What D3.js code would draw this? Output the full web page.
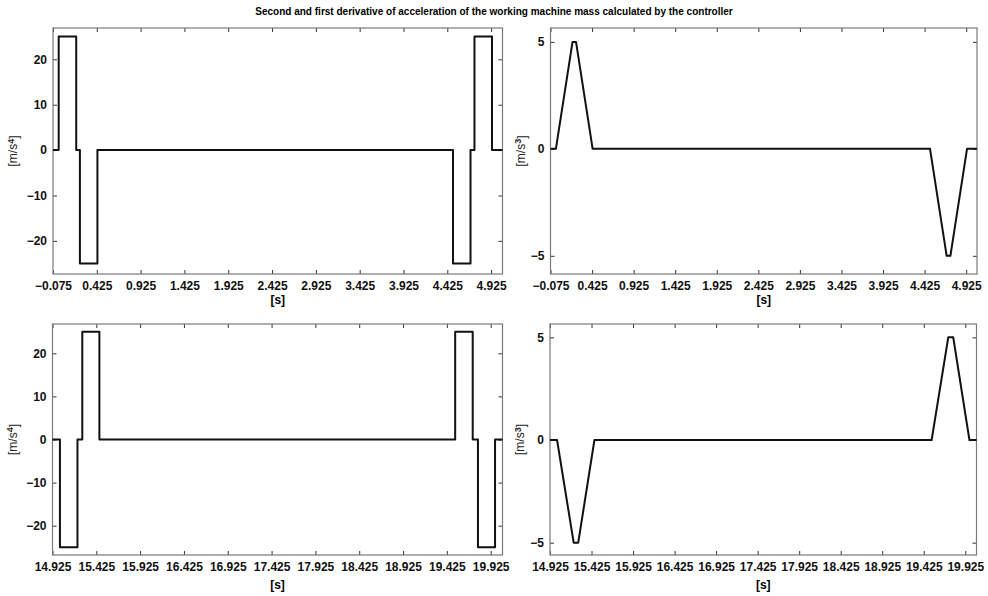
<!DOCTYPE html>
<html>
<head>
<meta charset="utf-8">
<script src="https://cdn.jsdelivr.net/npm/d3@7"></script>
<style>
  body { margin: 0; background: #fff; }
  svg { display: block; }
  .tick text { font-family: "Liberation Sans", Arial, sans-serif; font-weight: bold; font-size: 12px; fill: #111; }
  .tick line { stroke: #333; }
</style>
</head>
<body>
<div id="chart"></div>
<script>
// time breakpoints and values (step / piecewise-linear)
const timesStart = [-0.075, -0.01, 0.19, 0.232, 0.432, 4.49, 4.69, 4.735, 4.935, 5.055];
const snapStart  = [0, 25, 0, -25, 0, -25, 0, 25, 0, 0];
const jerkStart  = [0, 0, 5, 5, 0, 0, -5, -5, 0, 0];

const timesEnd = [14.925, 15.01, 15.21, 15.265, 15.46, 19.52, 19.72, 19.78, 19.975, 20.06];
const snapEnd  = [0, -25, 0, 25, 0, 25, 0, -25, 0, 0];
const jerkEnd  = [0, 0, -5, -5, 0, 0, 5, 5, 0, 0];

const ticksStart = [-0.075, 0.425, 0.925, 1.425, 1.925, 2.425, 2.925, 3.425, 3.925, 4.425, 4.925];
const ticksEnd   = [14.925, 15.425, 15.925, 16.425, 16.925, 17.425, 17.925, 18.425, 18.925, 19.425, 19.925];
const snapTicks = [-20, -10, 0, 10, 20];
const jerkTicks = [-5, 0, 5];

const titleText = "Second and first derivative of acceleration of the working machine mass calculated by the controller";

const svg = d3.select("#chart").append("svg")
  .attr("width", 988)
  .attr("height", 596);

class DerivPlot {
  constructor(_cfg, _times, _values) {
    this.cfg = _cfg;
    this.data = _times.map((t, i) => ({t: t, v: _values[i]}));
    this.initVis();
  }

  initVis() {
    let vis = this;
    let c = vis.cfg;
    vis.width = c.x1 - c.x0;
    vis.height = c.y1 - c.y0;

    vis.xScale = d3.scaleLinear().domain(c.xDomain).range([0, vis.width]);
    vis.yScale = d3.scaleLinear().domain(c.yDomain).range([vis.height, 0]);

    vis.g = svg.append("g")
      .attr("transform", `translate(${c.x0},${c.y0})`);

    // axes with inward ticks, matlab style
    vis.g.append("g")
      .attr("transform", `translate(0,${vis.height})`)
      .call(d3.axisBottom(vis.xScale).tickValues(c.xTicks).tickSizeInner(-4).tickSizeOuter(0).tickPadding(7)
        .tickFormat(d3.format(".3f")))
      .call(g => g.select(".domain").remove());

    vis.g.append("g")
      .call(d3.axisTop(vis.xScale).tickValues(c.xTicks).tickSizeInner(-4).tickSizeOuter(0).tickFormat(""))
      .call(g => g.select(".domain").remove());

    vis.g.append("g")
      .call(d3.axisLeft(vis.yScale).tickValues(c.yTicks).tickSizeInner(-4).tickSizeOuter(0).tickPadding(6)
        .tickFormat(d3.format("d")))
      .call(g => g.select(".domain").remove());

    vis.g.append("g")
      .attr("transform", `translate(${vis.width},0)`)
      .call(d3.axisRight(vis.yScale).tickValues(c.yTicks).tickSizeInner(-4).tickSizeOuter(0).tickFormat(""))
      .call(g => g.select(".domain").remove());

    vis.g.append("rect")
      .attr("width", vis.width)
      .attr("height", vis.height)
      .attr("fill", "none")
      .attr("stroke", "#7a7a7a")
      .attr("stroke-width", 1.2);

    // labels
    vis.g.append("text")
      .attr("x", vis.width / 2)
      .attr("y", vis.height + c.xLabelDy)
      .attr("text-anchor", "middle")
      .style("font-family", "Liberation Sans, Arial, sans-serif")
      .style("font-weight", "bold")
      .style("font-size", "12px")
      .text("[s]");

    let yl = vis.g.append("text")
      .attr("transform", `translate(${c.yLabelX},${vis.height / 2}) rotate(-90)`)
      .attr("text-anchor", "middle")
      .attr("dy", "0.35em")
      .style("font-family", "Liberation Sans, Arial, sans-serif")
      .style("font-size", "12px")
      .style("fill", "#222");
    yl.append("tspan").text("[m/s");
    yl.append("tspan").attr("dy", "-0.4em").style("font-size", "9px").style("font-weight", "bold").text(c.power);
    yl.append("tspan").attr("dy", "0.4em").text("]");

    vis.renderVis();
  }

  renderVis() {
    let vis = this;
    let line = d3.line()
      .x(d => vis.xScale(d.t))
      .y(d => vis.yScale(d.v))
      .curve(vis.cfg.step ? d3.curveStepAfter : d3.curveLinear);

    vis.g.append("path")
      .datum(vis.data)
      .attr("d", line)
      .attr("fill", "none")
      .attr("stroke", "#111")
      .attr("stroke-width", 2)
      .attr("stroke-linejoin", "round");
  }
}

const topRow = {y0: 28, y1: 274, xLabelDy: 30};
const botRow = {y0: 324, y1: 555, xLabelDy: 34};

new DerivPlot(Object.assign({x0: 53, x1: 502.5, xDomain: [-0.075, 5.055], yDomain: [-27.3, 26.9],
  xTicks: ticksStart, yTicks: snapTicks, yLabelX: -40, power: "4", step: true}, topRow), timesStart, snapStart);
new DerivPlot(Object.assign({x0: 550.5, x1: 977, xDomain: [-0.075, 5.055], yDomain: [-5.85, 5.65],
  xTicks: ticksStart, yTicks: jerkTicks, yLabelX: -30, power: "3", step: false}, topRow), timesStart, jerkStart);
new DerivPlot(Object.assign({x0: 52.5, x1: 502.5, xDomain: [14.925, 20.06], yDomain: [-26.8, 26.8],
  xTicks: ticksEnd, yTicks: snapTicks, yLabelX: -40, power: "4", step: true}, botRow), timesEnd, snapEnd);
new DerivPlot(Object.assign({x0: 550, x1: 976.5, xDomain: [14.925, 20.06], yDomain: [-5.6, 5.65],
  xTicks: ticksEnd, yTicks: jerkTicks, yLabelX: -30, power: "3", step: false}, botRow), timesEnd, jerkEnd);

// title, shrunk to the width it has in the picture
let title = svg.append("text")
  .attr("x", 494)
  .attr("y", 14.5)
  .attr("text-anchor", "middle")
  .style("font-family", "Liberation Sans, Arial, sans-serif")
  .style("font-weight", "bold")
  .style("font-size", "11px")
  .text(titleText);
let tl = title.node().getComputedTextLength();
title.style("font-size", (11 * 478 / tl).toFixed(2) + "px");
</script>
</body>
</html>
